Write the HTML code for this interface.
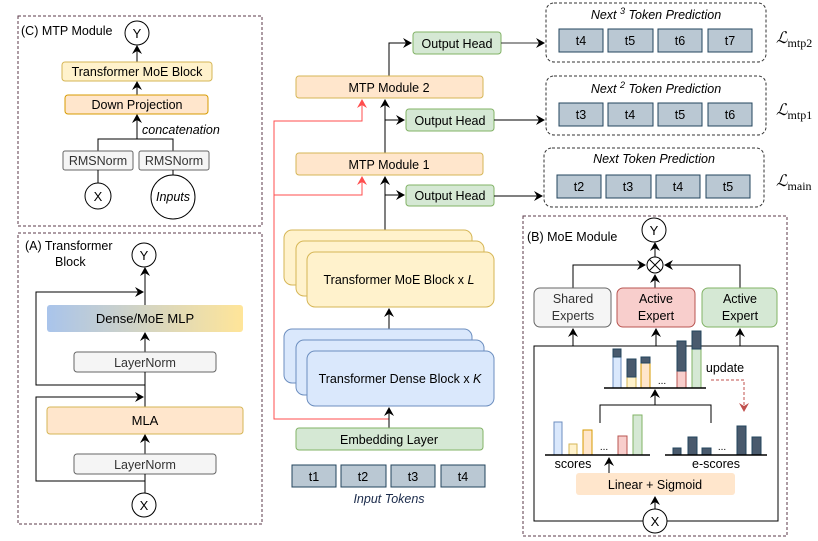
<!DOCTYPE html>
<html><head><meta charset="utf-8"><style>
html,body{margin:0;padding:0;background:#fff;}
svg{display:block;font-family:"Liberation Sans",sans-serif;}
</style></head><body>
<svg width="818" height="541" viewBox="0 0 818 541" xmlns="http://www.w3.org/2000/svg">
<defs>
<marker id="a" markerWidth="10" markerHeight="10" refX="8" refY="5" orient="auto" markerUnits="userSpaceOnUse"><path d="M0,0 L9,5 L0,10 L3,5 z" fill="#000"/></marker>
<marker id="r" markerWidth="10" markerHeight="10" refX="8" refY="5" orient="auto" markerUnits="userSpaceOnUse"><path d="M0,0 L9,5 L0,10 L3,5 z" fill="#ff4d4d"/></marker>
<marker id="u" markerWidth="10" markerHeight="10" refX="8" refY="5" orient="auto" markerUnits="userSpaceOnUse"><path d="M0,0 L9,5 L0,10 L3,5 z" fill="#c0504d"/></marker>
<linearGradient id="g" x1="0" x2="1" y1="0" y2="0"><stop offset="0" stop-color="#a9c4eb"/><stop offset="1" stop-color="#ffe599"/></linearGradient>
</defs>
<g font-size="12.5" fill="#000">
<!-- Panel C -->
<rect x="18" y="16" width="244" height="210" fill="none" stroke="#5b3a4a" stroke-dasharray="3,2"/>
<text x="21" y="35" font-size="12.5">(C) MTP Module</text>
<circle cx="137" cy="33" r="12" fill="#fff" stroke="#000"/><text x="137" y="38" text-anchor="middle" font-size="13">Y</text>
<line x1="137" y1="62" x2="137" y2="46" stroke="#000" marker-end="url(#a)"/>
<rect x="62" y="62" width="150" height="19" rx="3" fill="#fff2cc" stroke="#d6b656"/>
<text x="137" y="76" text-anchor="middle">Transformer MoE Block</text>
<line x1="137" y1="95" x2="137" y2="82" stroke="#000" marker-end="url(#a)"/>
<rect x="65" y="95" width="143" height="19" rx="3" fill="#ffe6cc" stroke="#d79b00"/>
<text x="137" y="109" text-anchor="middle">Down Projection</text>
<line x1="137" y1="139" x2="137" y2="115" stroke="#000" marker-end="url(#a)"/>
<text x="142" y="134" font-style="italic">concatenation</text>
<polyline points="98,151 98,139 173,139 173,151" fill="none" stroke="#000"/>
<rect x="63" y="151" width="70" height="19" rx="2" fill="#f5f5f5" stroke="#666"/>
<text x="98" y="165" text-anchor="middle" fill="#333">RMSNorm</text>
<rect x="139" y="151" width="70" height="19" rx="2" fill="#f5f5f5" stroke="#666"/>
<text x="174" y="165" text-anchor="middle" fill="#333">RMSNorm</text>
<line x1="98" y1="170" x2="98" y2="183" stroke="#000"/><line x1="173" y1="170" x2="173" y2="175" stroke="#000"/>
<circle cx="98" cy="196" r="13" fill="#fff" stroke="#000"/><text x="98" y="201" text-anchor="middle" font-size="13">X</text>
<circle cx="173" cy="197" r="22" fill="#fff" stroke="#000"/><text x="173" y="201" text-anchor="middle" font-style="italic">Inputs</text>

<!-- Panel A -->
<rect x="18" y="233" width="244" height="291" fill="none" stroke="#5b3a4a" stroke-dasharray="3,2"/>
<text x="25" y="250" font-size="12.5">(A) Transformer</text>
<text x="55" y="266" font-size="12.5">Block</text>
<circle cx="144" cy="255" r="12" fill="#fff" stroke="#000"/><text x="144" y="260" text-anchor="middle" font-size="13">Y</text>
<line x1="145" y1="305" x2="145" y2="268" stroke="#000" marker-end="url(#a)"/>
<polyline points="145,385 36,385 36,292 143,292" fill="none" stroke="#000" marker-end="url(#a)"/>
<rect x="47" y="305" width="196" height="27" rx="3" fill="url(#g)"/>
<text x="145" y="323" text-anchor="middle" font-size="13">Dense/MoE MLP</text>
<line x1="145" y1="352" x2="145" y2="333" stroke="#000" marker-end="url(#a)"/>
<rect x="74" y="352" width="142" height="20" rx="3" fill="#f5f5f5" stroke="#666"/>
<text x="145" y="367" text-anchor="middle" fill="#333">LayerNorm</text>
<line x1="145" y1="407" x2="145" y2="372" stroke="#000"/>
<polyline points="145,481 36,481 36,397 143,397" fill="none" stroke="#000" marker-end="url(#a)"/>
<rect x="47" y="407" width="196" height="27" rx="3" fill="#ffe6cc" stroke="#d6b656"/>
<text x="145" y="425" text-anchor="middle" font-size="13">MLA</text>
<line x1="145" y1="454" x2="145" y2="435" stroke="#000" marker-end="url(#a)"/>
<rect x="74" y="454" width="142" height="20" rx="3" fill="#f5f5f5" stroke="#666"/>
<text x="145" y="469" text-anchor="middle" fill="#333">LayerNorm</text>
<line x1="145" y1="493" x2="145" y2="474" stroke="#000"/>
<circle cx="144" cy="505" r="12" fill="#fff" stroke="#000"/><text x="144" y="510" text-anchor="middle" font-size="13">X</text>

<!-- Center -->
<polyline points="389,419 274,419 274,121 362,121 362,100" fill="none" stroke="#ff4d4d" marker-end="url(#r)"/>
<polyline points="274,195 362,195 362,177" fill="none" stroke="#ff4d4d" marker-end="url(#r)"/>
<line x1="385" y1="230" x2="385" y2="177" stroke="#000" marker-end="url(#a)"/>
<line x1="385" y1="153" x2="385" y2="100" stroke="#000" marker-end="url(#a)"/>
<line x1="385" y1="195" x2="404" y2="195" stroke="#000" marker-end="url(#a)"/>
<line x1="385" y1="120" x2="404" y2="120" stroke="#000" marker-end="url(#a)"/>
<polyline points="389,76 389,43 411,43" fill="none" stroke="#000" marker-end="url(#a)"/>
<rect x="296" y="76" width="187" height="22" rx="3" fill="#ffe6cc" stroke="#d6b656"/>
<text x="389" y="92" text-anchor="middle">MTP Module 2</text>
<rect x="296" y="153" width="187" height="22" rx="3" fill="#ffe6cc" stroke="#d6b656"/>
<text x="389" y="169" text-anchor="middle">MTP Module 1</text>
<rect x="413" y="32" width="88" height="22" rx="3" fill="#d5e8d4" stroke="#82b366"/>
<text x="457" y="48" text-anchor="middle">Output Head</text>
<rect x="406" y="109" width="88" height="22" rx="3" fill="#d5e8d4" stroke="#82b366"/>
<text x="450" y="125" text-anchor="middle">Output Head</text>
<rect x="406" y="185" width="88" height="21" rx="3" fill="#d5e8d4" stroke="#82b366"/>
<text x="450" y="200" text-anchor="middle">Output Head</text>
<line x1="501" y1="43" x2="544" y2="43" stroke="#333" marker-end="url(#a)"/>
<line x1="494" y1="120" x2="544" y2="120" stroke="#000" marker-end="url(#a)"/>
<line x1="494" y1="196" x2="542" y2="196" stroke="#000" marker-end="url(#a)"/>

<rect x="284" y="230" width="188" height="55" rx="8" fill="#fff2cc" stroke="#d6b656"/>
<rect x="296" y="241" width="188" height="55" rx="8" fill="#fff2cc" stroke="#d6b656"/>
<rect x="307" y="252" width="187" height="55" rx="8" fill="#fff2cc" stroke="#d6b656"/>
<text x="399" y="284" text-anchor="middle">Transformer MoE Block x <tspan font-style="italic">L</tspan></text>
<line x1="389" y1="329" x2="389" y2="309" stroke="#000" marker-end="url(#a)"/>
<rect x="284" y="329" width="188" height="54" rx="8" fill="#dae8fc" stroke="#6c8ebf"/>
<rect x="296" y="340" width="188" height="55" rx="8" fill="#dae8fc" stroke="#6c8ebf"/>
<rect x="307" y="351" width="187" height="55" rx="8" fill="#dae8fc" stroke="#6c8ebf"/>
<text x="400" y="383" text-anchor="middle">Transformer Dense Block x <tspan font-style="italic">K</tspan></text>
<line x1="389" y1="428" x2="389" y2="408" stroke="#000" marker-end="url(#a)"/>
<rect x="296" y="428" width="187" height="22" rx="3" fill="#d5e8d4" stroke="#82b366"/>
<text x="389" y="444" text-anchor="middle">Embedding Layer</text>
<g fill="#bac8d3" stroke="#23445d">
<rect x="292" y="465" width="44" height="22"/><rect x="341" y="465" width="45" height="22"/>
<rect x="391" y="465" width="44" height="22"/><rect x="441" y="465" width="44" height="22"/></g>
<text x="314" y="481" text-anchor="middle">t1</text><text x="363" y="481" text-anchor="middle">t2</text>
<text x="413" y="481" text-anchor="middle">t3</text><text x="463" y="481" text-anchor="middle">t4</text>
<text x="389" y="503" text-anchor="middle" font-style="italic" fill="#1a2a4a">Input Tokens</text>

<!-- Predictions -->
<g fill="none" stroke="#333" stroke-dasharray="3,2">
<rect x="546" y="3" width="220" height="59" rx="8"/>
<rect x="546" y="76" width="220" height="59" rx="8"/>
<rect x="544" y="148" width="220" height="59" rx="8"/></g>
<text x="656" y="19" text-anchor="middle" font-style="italic">Next <tspan font-size="9" dy="-5">3</tspan><tspan dy="5"> Token Prediction</tspan></text>
<text x="656" y="93" text-anchor="middle" font-style="italic">Next <tspan font-size="9" dy="-5">2</tspan><tspan dy="5"> Token Prediction</tspan></text>
<text x="654" y="163" text-anchor="middle" font-style="italic">Next Token Prediction</text>
<g fill="#bac8d3" stroke="#23445d">
<rect x="559" y="29" width="44" height="23"/><rect x="608" y="29" width="45" height="23"/><rect x="658" y="29" width="44" height="23"/><rect x="708" y="29" width="44" height="23"/>
<rect x="559" y="103" width="44" height="23"/><rect x="608" y="103" width="45" height="23"/><rect x="658" y="103" width="44" height="23"/><rect x="708" y="103" width="44" height="23"/>
<rect x="557" y="175" width="44" height="23"/><rect x="606" y="175" width="45" height="23"/><rect x="656" y="175" width="44" height="23"/><rect x="706" y="175" width="44" height="23"/></g>
<g text-anchor="middle">
<text x="581" y="45">t4</text><text x="630" y="45">t5</text><text x="680" y="45">t6</text><text x="730" y="45">t7</text>
<text x="581" y="119">t3</text><text x="630" y="119">t4</text><text x="680" y="119">t5</text><text x="730" y="119">t6</text>
<text x="579" y="191">t2</text><text x="628" y="191">t3</text><text x="678" y="191">t4</text><text x="728" y="191">t5</text></g>
<g font-family="Liberation Serif,serif">
<text x="776" y="43" font-size="16" font-style="italic">ℒ<tspan font-size="12" dy="4" font-style="normal">mtp2</tspan></text>
<text x="776" y="115" font-size="16" font-style="italic">ℒ<tspan font-size="12" dy="4" font-style="normal">mtp1</tspan></text>
<text x="776" y="186" font-size="16" font-style="italic">ℒ<tspan font-size="12" dy="4" font-style="normal">main</tspan></text></g>

<!-- Panel B -->
<rect x="523" y="216" width="264" height="320" fill="none" stroke="#5b3a4a" stroke-dasharray="3,2"/>
<text x="527" y="241" font-size="12.5">(B) MoE Module</text>
<circle cx="654" cy="230" r="12" fill="#fff" stroke="#000"/><text x="654" y="235" text-anchor="middle" font-size="13">Y</text>
<line x1="655" y1="257" x2="655" y2="243" stroke="#000" marker-end="url(#a)"/>
<circle cx="655" cy="265" r="8" fill="#fff" stroke="#000"/>
<path d="M649.5,259.5 L660.5,270.5 M660.5,259.5 L649.5,270.5" stroke="#000"/>
<polyline points="573,288 573,265 645,265" fill="none" stroke="#000" marker-end="url(#a)"/>
<polyline points="740,288 740,265 665,265" fill="none" stroke="#000" marker-end="url(#a)"/>
<line x1="655" y1="288" x2="655" y2="275" stroke="#000" marker-end="url(#a)"/>
<rect x="534" y="288" width="77" height="39" rx="6" fill="#f5f5f5" stroke="#666"/>
<text x="573" y="303" text-anchor="middle" fill="#333">Shared</text><text x="573" y="320" text-anchor="middle" fill="#333">Experts</text>
<rect x="617" y="288" width="78" height="39" rx="6" fill="#f8cecc" stroke="#b85450"/>
<text x="656" y="303" text-anchor="middle">Active</text><text x="656" y="320" text-anchor="middle">Expert</text>
<rect x="702" y="288" width="75" height="39" rx="6" fill="#d5e8d4" stroke="#82b366"/>
<text x="740" y="303" text-anchor="middle">Active</text><text x="740" y="320" text-anchor="middle">Expert</text>
<polyline points="655,521 534,521 534,346 778,346 778,521 655,521" fill="none" stroke="#000"/>
<line x1="573" y1="346" x2="573" y2="329" stroke="#000" marker-end="url(#a)"/>
<line x1="656" y1="346" x2="656" y2="329" stroke="#000" marker-end="url(#a)"/>
<line x1="740" y1="346" x2="740" y2="329" stroke="#000" marker-end="url(#a)"/>
<!-- upper chart -->
<rect x="613" y="357" width="8" height="31" fill="#dae8fc" stroke="#6c8ebf"/><rect x="613" y="349" width="8" height="8" fill="#4a5a6d" stroke="#23445d"/>
<rect x="627" y="377" width="9" height="11" fill="#fff2cc" stroke="#d6b656"/><rect x="627" y="359" width="9" height="18" fill="#4a5a6d" stroke="#23445d"/>
<rect x="641" y="363" width="9" height="25" fill="#ffe6cc" stroke="#d79b00"/><rect x="641" y="357" width="9" height="6" fill="#4a5a6d" stroke="#23445d"/>
<rect x="677" y="371" width="9" height="17" fill="#f8cecc" stroke="#b85450"/><rect x="677" y="341" width="9" height="30" fill="#4a5a6d" stroke="#23445d"/>
<rect x="692" y="349" width="9" height="39" fill="#d5e8d4" stroke="#82b366"/><rect x="692" y="331" width="9" height="18" fill="#4a5a6d" stroke="#23445d"/>
<text x="662" y="384" text-anchor="middle" font-size="10">...</text>
<line x1="604" y1="388" x2="706" y2="388" stroke="#000" stroke-width="1.5"/>
<polyline points="600,423 600,405 711,405 711,423" fill="none" stroke="#000"/>
<line x1="655" y1="405" x2="655" y2="390" stroke="#000" marker-end="url(#a)"/>
<polyline points="711,380 744,380 744,411" fill="none" stroke="#c0504d" stroke-dasharray="3,2" marker-end="url(#u)"/>
<text x="725" y="372" text-anchor="middle">update</text>
<!-- lower charts -->
<rect x="554" y="422" width="8" height="33" fill="#dae8fc" stroke="#6c8ebf"/>
<rect x="569" y="444" width="8" height="11" fill="#fff2cc" stroke="#d6b656"/>
<rect x="583" y="430" width="9" height="25" fill="#ffe6cc" stroke="#d79b00"/>
<rect x="618" y="436" width="9" height="19" fill="#f8cecc" stroke="#b85450"/>
<rect x="633" y="415" width="9" height="40" fill="#d5e8d4" stroke="#82b366"/>
<text x="604" y="450" text-anchor="middle" font-size="10">...</text>
<g fill="#4a5a6d" stroke="#23445d">
<rect x="673" y="448" width="8" height="7"/><rect x="688" y="437" width="9" height="18"/><rect x="702" y="448" width="9" height="7"/>
<rect x="737" y="426" width="9" height="29"/><rect x="752" y="437" width="9" height="18"/></g>
<text x="722" y="450" text-anchor="middle" font-size="10">...</text>
<line x1="545" y1="455" x2="650" y2="455" stroke="#000" stroke-width="1.5"/>
<line x1="665" y1="455" x2="767" y2="455" stroke="#000" stroke-width="1.5"/>
<text x="573" y="468" text-anchor="middle">scores</text>
<text x="716" y="468" text-anchor="middle">e-scores</text>
<line x1="609" y1="473" x2="609" y2="458" stroke="#000" marker-end="url(#a)"/>
<rect x="576" y="473" width="159" height="22" rx="3" fill="#ffe6cc"/>
<text x="655" y="489" text-anchor="middle">Linear + Sigmoid</text>
<line x1="655" y1="509" x2="655" y2="497" stroke="#000" marker-end="url(#a)"/>
<circle cx="655" cy="521" r="12" fill="#fff" stroke="#000"/><text x="655" y="526" text-anchor="middle" font-size="13">X</text>
</g>
</svg>
</body></html>
